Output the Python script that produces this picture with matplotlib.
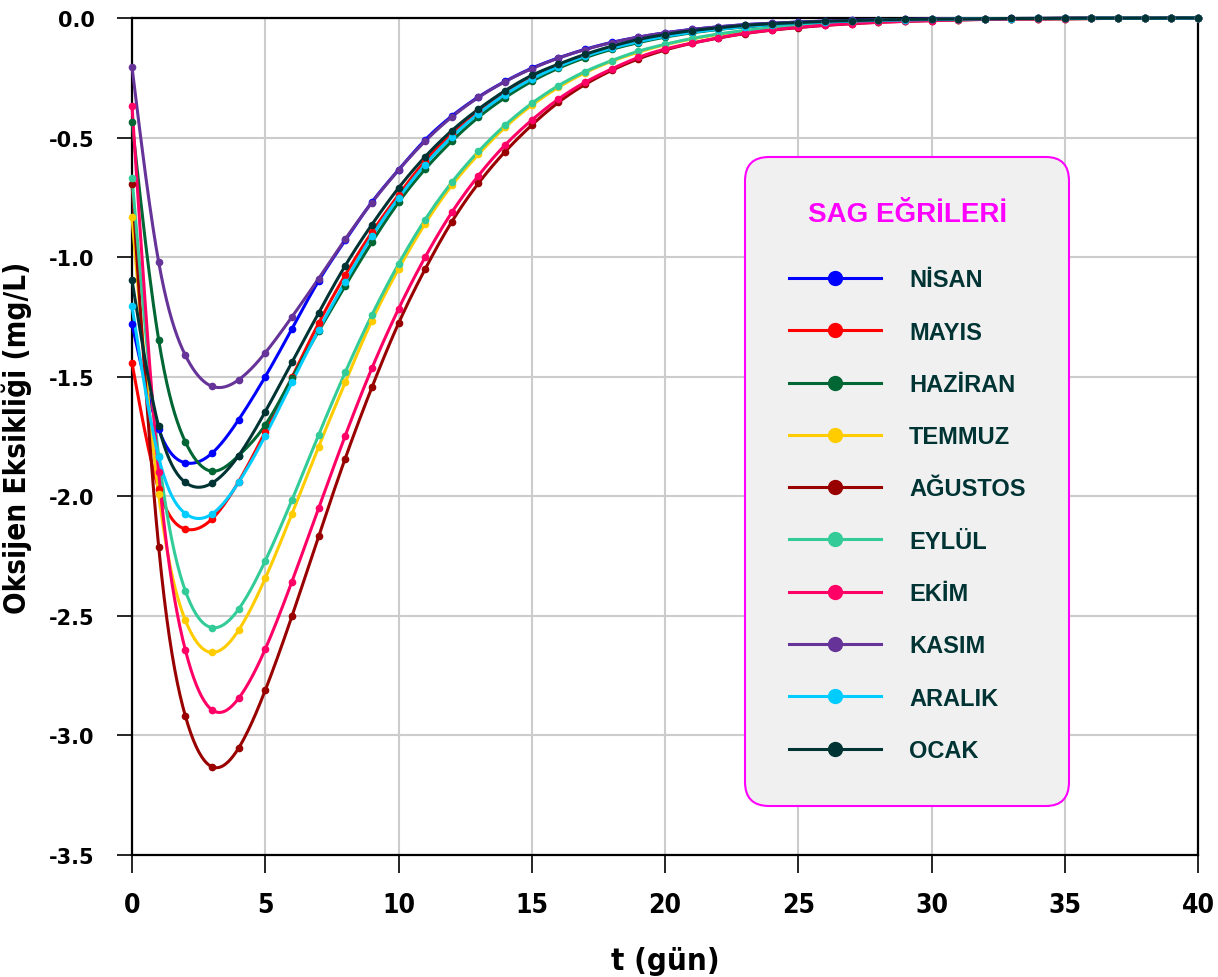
"""SAG curves - oxygen deficit vs time for each month"""

import numpy as np
import matplotlib
matplotlib.use("Agg")
import matplotlib.pyplot as plt
from matplotlib.lines import Line2D
from matplotlib import font_manager as fm

# days 0..40
days = list(range(41))

months = ["NİSAN", "MAYIS", "HAZİRAN", "TEMMUZ", "AĞUSTOS",
          "EYLÜL", "EKİM", "KASIM", "ARALIK", "OCAK"]

colors = ["#0000FF", "#FF0000", "#006633", "#FFCC00", "#990000",
          "#33CC99", "#FF0066", "#663399", "#00CCFF", "#003333"]

nisan = [-1.280, -1.720, -1.860, -1.820, -1.680, -1.500, -1.300, -1.100, -0.930, -0.770,
         -0.635, -0.510, -0.410, -0.330, -0.265, -0.210, -0.167, -0.131, -0.102, -0.080,
         -0.062, -0.048, -0.037, -0.028, -0.022, -0.017, -0.013, -0.010, -0.008, -0.006,
         -0.004, -0.003, -0.003, -0.002, -0.002, -0.001, -0.001, -0.001, -0.001, 0.000, 0.000]
mayis = [-1.443, -1.970, -2.137, -2.095, -1.939, -1.730, -1.503, -1.277, -1.075, -0.896,
         -0.740, -0.598, -0.485, -0.390, -0.312, -0.250, -0.198, -0.157, -0.124, -0.097,
         -0.076, -0.059, -0.046, -0.036, -0.028, -0.021, -0.016, -0.013, -0.010, -0.007,
         -0.006, -0.004, -0.003, -0.003, -0.002, -0.001, -0.001, -0.001, -0.001, 0.000, 0.000]
haziran = [-0.436, -1.345, -1.772, -1.895, -1.830, -1.702, -1.506, -1.310, -1.120, -0.938,
           -0.771, -0.632, -0.515, -0.415, -0.333, -0.265, -0.210, -0.166, -0.131, -0.103,
           -0.080, -0.062, -0.048, -0.037, -0.029, -0.022, -0.017, -0.013, -0.010, -0.008,
           -0.006, -0.005, -0.004, -0.003, -0.002, -0.002, -0.001, -0.001, -0.001, -0.001, 0.000]
temmuz = [-0.834, -1.991, -2.518, -2.653, -2.560, -2.343, -2.074, -1.793, -1.524, -1.266,
          -1.050, -0.860, -0.700, -0.570, -0.457, -0.365, -0.290, -0.229, -0.181, -0.143,
          -0.112, -0.088, -0.069, -0.054, -0.042, -0.033, -0.026, -0.020, -0.016, -0.012,
          -0.009, -0.007, -0.006, -0.004, -0.003, -0.003, -0.002, -0.002, -0.001, -0.001, -0.001]
agustos = [-0.694, -2.210, -2.918, -3.131, -3.053, -2.811, -2.502, -2.168, -1.842, -1.545,
           -1.277, -1.050, -0.852, -0.691, -0.559, -0.448, -0.353, -0.278, -0.219, -0.171,
           -0.134, -0.106, -0.084, -0.065, -0.051, -0.040, -0.031, -0.024, -0.018, -0.014,
           -0.011, -0.008, -0.006, -0.005, -0.004, -0.003, -0.002, -0.002, -0.001, -0.001, -0.001]
eylul = [-0.667, -1.830, -2.395, -2.549, -2.472, -2.270, -2.016, -1.744, -1.482, -1.242,
         -1.029, -0.843, -0.687, -0.558, -0.448, -0.357, -0.283, -0.224, -0.178, -0.139,
         -0.110, -0.086, -0.067, -0.052, -0.041, -0.032, -0.025, -0.019, -0.015, -0.012,
         -0.009, -0.007, -0.005, -0.004, -0.003, -0.003, -0.002, -0.002, -0.001, -0.001, -0.001]
ekim = [-0.367, -1.900, -2.642, -2.893, -2.845, -2.639, -2.357, -2.051, -1.747, -1.465,
        -1.217, -1.000, -0.813, -0.659, -0.531, -0.427, -0.339, -0.269, -0.213, -0.165,
        -0.130, -0.105, -0.083, -0.064, -0.050, -0.039, -0.030, -0.023, -0.018, -0.014,
        -0.011, -0.008, -0.006, -0.005, -0.004, -0.003, -0.002, -0.002, -0.001, -0.001, -0.001]
kasim = [-0.205, -1.020, -1.410, -1.540, -1.513, -1.400, -1.250, -1.090, -0.925, -0.772,
         -0.636, -0.515, -0.414, -0.332, -0.266, -0.212, -0.168, -0.132, -0.103, -0.080,
         -0.062, -0.048, -0.037, -0.028, -0.022, -0.017, -0.013, -0.010, -0.008, -0.006,
         -0.004, -0.003, -0.003, -0.002, -0.002, -0.001, -0.001, -0.001, -0.001, 0.000, 0.000]
aralik = [-1.205, -1.837, -2.072, -2.074, -1.942, -1.747, -1.524, -1.305, -1.103, -0.913,
          -0.753, -0.613, -0.497, -0.400, -0.320, -0.255, -0.203, -0.160, -0.126, -0.099,
          -0.077, -0.060, -0.047, -0.036, -0.028, -0.022, -0.017, -0.013, -0.010, -0.008,
          -0.006, -0.004, -0.003, -0.003, -0.002, -0.002, -0.001, -0.001, -0.001, -0.001, 0.000]
ocak = [-1.096, -1.708, -1.942, -1.945, -1.830, -1.646, -1.440, -1.234, -1.036, -0.864,
        -0.711, -0.580, -0.471, -0.381, -0.304, -0.240, -0.193, -0.152, -0.118, -0.090,
        -0.069, -0.053, -0.041, -0.031, -0.024, -0.019, -0.014, -0.011, -0.008, -0.006,
        -0.005, -0.004, -0.003, -0.002, -0.002, -0.001, -0.001, -0.001, -0.001, 0.000, 0.000]

series = [nisan, mayis, haziran, temmuz, agustos, eylul, ekim, kasim, aralik, ocak]


def natural_spline(x, y, n=800):
    """Natural cubic spline through (x, y), sampled on n points."""
    x = np.asarray(x, float)
    y = np.asarray(y, float)
    k = len(x)
    h = np.diff(x)
    A = np.zeros((k, k))
    b = np.zeros(k)
    A[0, 0] = A[-1, -1] = 1.0
    for i in range(1, k - 1):
        A[i, i - 1] = h[i - 1]
        A[i, i] = 2 * (h[i - 1] + h[i])
        A[i, i + 1] = h[i]
        b[i] = 3 * ((y[i + 1] - y[i]) / h[i] - (y[i] - y[i - 1]) / h[i - 1])
    c = np.linalg.solve(A, b)
    bb = (y[1:] - y[:-1]) / h - h * (2 * c[:-1] + c[1:]) / 3
    d = (c[1:] - c[:-1]) / (3 * h)
    xs = np.linspace(x[0], x[-1], n)
    idx = np.clip(np.searchsorted(x, xs) - 1, 0, k - 2)
    dx = xs - x[idx]
    ys = y[idx] + bb[idx] * dx + c[idx] * dx ** 2 + d[idx] * dx ** 3
    return xs, ys


# condensed bold face for the x ticks and axis titles, if there is one
cond_path = fm.findfont(fm.FontProperties(family="DejaVu Sans", stretch="condensed",
                                          weight="bold"))
if "Condensed" in cond_path:
    cond = dict(family="DejaVu Sans", fontstretch="condensed")
    cond_scale = 1.12
else:
    cond = dict(family="Liberation Sans")
    cond_scale = 1.0

fig = plt.figure(figsize=(12.18, 9.78), dpi=100)
ax = fig.add_axes([132 / 1218, 1 - 856 / 978, 1066 / 1218, 837 / 978])

for name, vals, col in zip(months, series, colors):
    xs, ys = natural_spline(days, vals)
    ax.plot(xs, ys, color=col, lw=2.2, clip_on=False, zorder=3)
    ax.plot(days, vals, "o", color=col, ms=4.5, clip_on=False, zorder=4)

ax.set_xlim(0, 40)
ax.set_ylim(-3.5, 0)
ax.set_xticks(np.arange(0, 41, 5))
ax.set_yticks(np.arange(-3.5, 0.01, 0.5))
ax.set_yticklabels(["{:.1f}".format(v) for v in np.arange(-3.5, 0.01, 0.5)])
ax.grid(True, color="#cccccc", lw=1.5, zorder=0)
ax.set_axisbelow(True)
for sp in ax.spines.values():
    sp.set_linewidth(1.6)

ax.tick_params(axis="y", direction="out", length=11, width=1.2, pad=16)
ax.tick_params(axis="x", direction="out", length=13, width=1.2, pad=14)
for lab in ax.get_yticklabels():
    lab.set_fontfamily("DejaVu Sans")
    lab.set_fontweight("bold")
    lab.set_fontsize(15)
for lab in ax.get_xticklabels():
    lab.set_fontfamily(cond["family"])
    if "fontstretch" in cond:
        lab.set_fontstretch("condensed")
    lab.set_fontweight("bold")
    lab.set_fontsize(17 * cond_scale)

ax.set_xlabel("t (gün)", fontweight="bold", fontsize=20 * cond_scale, labelpad=20, **cond)
ax.set_ylabel("Oksijen Eksikliği (mg/L)", fontweight="bold",
              fontsize=19 * cond_scale, labelpad=12, **cond)

# legend
handles = [Line2D([0], [0], color=c, lw=2.2, marker="o", ms=10) for c in colors]
leg = ax.legend(handles, months, loc="upper left",
                bbox_to_anchor=(745 / 1218, 1 - 158 / 978), bbox_transform=fig.transFigure,
                prop={"weight": "bold", "size": 17, "family": "Liberation Sans"},
                title="SAG EĞRİLERİ",
                title_fontproperties={"weight": "bold", "size": 20, "family": "Liberation Sans"},
                frameon=True, fancybox=True, facecolor="#f0f0f0", edgecolor="#ff00ff",
                framealpha=1, labelspacing=1.24, handlelength=3.9, handletextpad=1.2,
                borderpad=1.85, borderaxespad=0, numpoints=1)
leg.get_title().set_color("#ff00ff")
leg._legend_box.sep = 30
for txt in leg.get_texts():
    txt.set_color("#003333")
frame = leg.get_frame()
frame.set_linewidth(1.5)
frame.set_boxstyle("round", pad=0, rounding_size=1.0)
leg.set_zorder(5)

fig.savefig("out.png", dpi=100)
